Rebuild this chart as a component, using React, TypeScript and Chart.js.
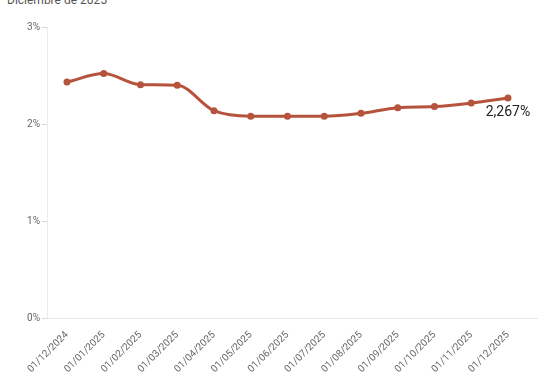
import React, { useEffect, useRef } from "react";
import { Chart, registerables } from "chart.js";

Chart.register(...registerables);

const titleText = "Diciembre de 2025";
const categories = [
  "01/12/2024", "01/01/2025", "01/02/2025", "01/03/2025", "01/04/2025",
  "01/05/2025", "01/06/2025", "01/07/2025", "01/08/2025", "01/09/2025",
  "01/10/2025", "01/11/2025", "01/12/2025",
];
const values = [2.433, 2.52, 2.405, 2.4, 2.137, 2.08, 2.08, 2.08, 2.11, 2.168, 2.18, 2.216, 2.267];
const yTicks = [0, 1, 2, 3];

const lineColor = "#b5533c";

const lastLabelPlugin = {
  id: "lastLabel",
  afterDatasetsDraw(chart: any) {
    const meta = chart.getDatasetMeta(0);
    const i = values.length - 1;
    const pt = meta.data[i];
    if (!pt) return;
    const ctx = chart.ctx;
    ctx.save();
    ctx.font = "14px Roboto";
    ctx.fillStyle = "#222";
    ctx.textAlign = "center";
    ctx.textBaseline = "top";
    const txt = values[i].toFixed(3).replace(".", ",") + "%";
    ctx.fillText(txt, pt.x, pt.y + 7);
    ctx.restore();
  },
};

export default function App() {
  const ref = useRef<HTMLCanvasElement>(null);
  useEffect(() => {
    if (!ref.current) return;
    const chart = new Chart(ref.current, {
      type: "line",
      data: {
        datasets: [
          {
            data: values.map((v, i) => ({ x: i, y: v })),
            borderColor: lineColor,
            backgroundColor: lineColor,
            borderWidth: 3,
            pointRadius: 3.5,
            pointHoverRadius: 3.5,
            pointBorderWidth: 0,
            pointBackgroundColor: lineColor,
            pointBorderColor: lineColor,
            cubicInterpolationMode: "monotone",
            fill: false,
          },
        ],
      },
      options: {
        animation: false,
        responsive: false,
        maintainAspectRatio: false,
        events: [],
        layout: { padding: { left: 0, right: 15, top: 27, bottom: 0 } },
        plugins: { legend: { display: false }, tooltip: { enabled: false }, title: { display: false } },
        scales: {
          x: {
            type: "linear",
            min: -0.544,
            max: 12.79,
            grid: { display: false },
            border: { display: true, color: "#e6e6e6", width: 1 },
            afterFit: (s: any) => { s.height = 57; },
            ticks: {
              stepSize: 1,
              includeBounds: false,
              autoSkip: false,
              maxRotation: 45,
              minRotation: 45,
              color: "#666",
              font: { family: "Roboto", size: 10 },
              callback: (v: any) => categories[v] ?? "",
            },
          },
          y: {
            min: yTicks[0],
            max: yTicks[yTicks.length - 1],
            grid: { drawOnChartArea: false, drawTicks: true, tickLength: 5, color: "#d6d6d6" },
            border: { display: true, color: "#ececec", width: 1 },
            afterFit: (s: any) => { s.width = 47; },
            ticks: {
              stepSize: 1,
              padding: 2,
              color: "#666",
              font: { family: "Roboto", size: 10 },
              callback: (v: any) => v + "%",
            },
          },
        },
      },
      plugins: [lastLabelPlugin],
    } as any);
    return () => chart.destroy();
  }, []);
  return (
    <div style={{ position: "absolute", left: 0, top: 0, width: 552, height: 375, overflow: "hidden", background: "#fff" }}>
      <div style={{ position: "absolute", left: 7, top: -7, fontFamily: "Roboto", fontSize: 12, lineHeight: "14px", color: "#555", whiteSpace: "nowrap" }}>
        {titleText}
      </div>
      <canvas ref={ref} width={552} height={375} style={{ position: "absolute", left: 0, top: 0, width: 552, height: 375 }} />
    </div>
  );
}
